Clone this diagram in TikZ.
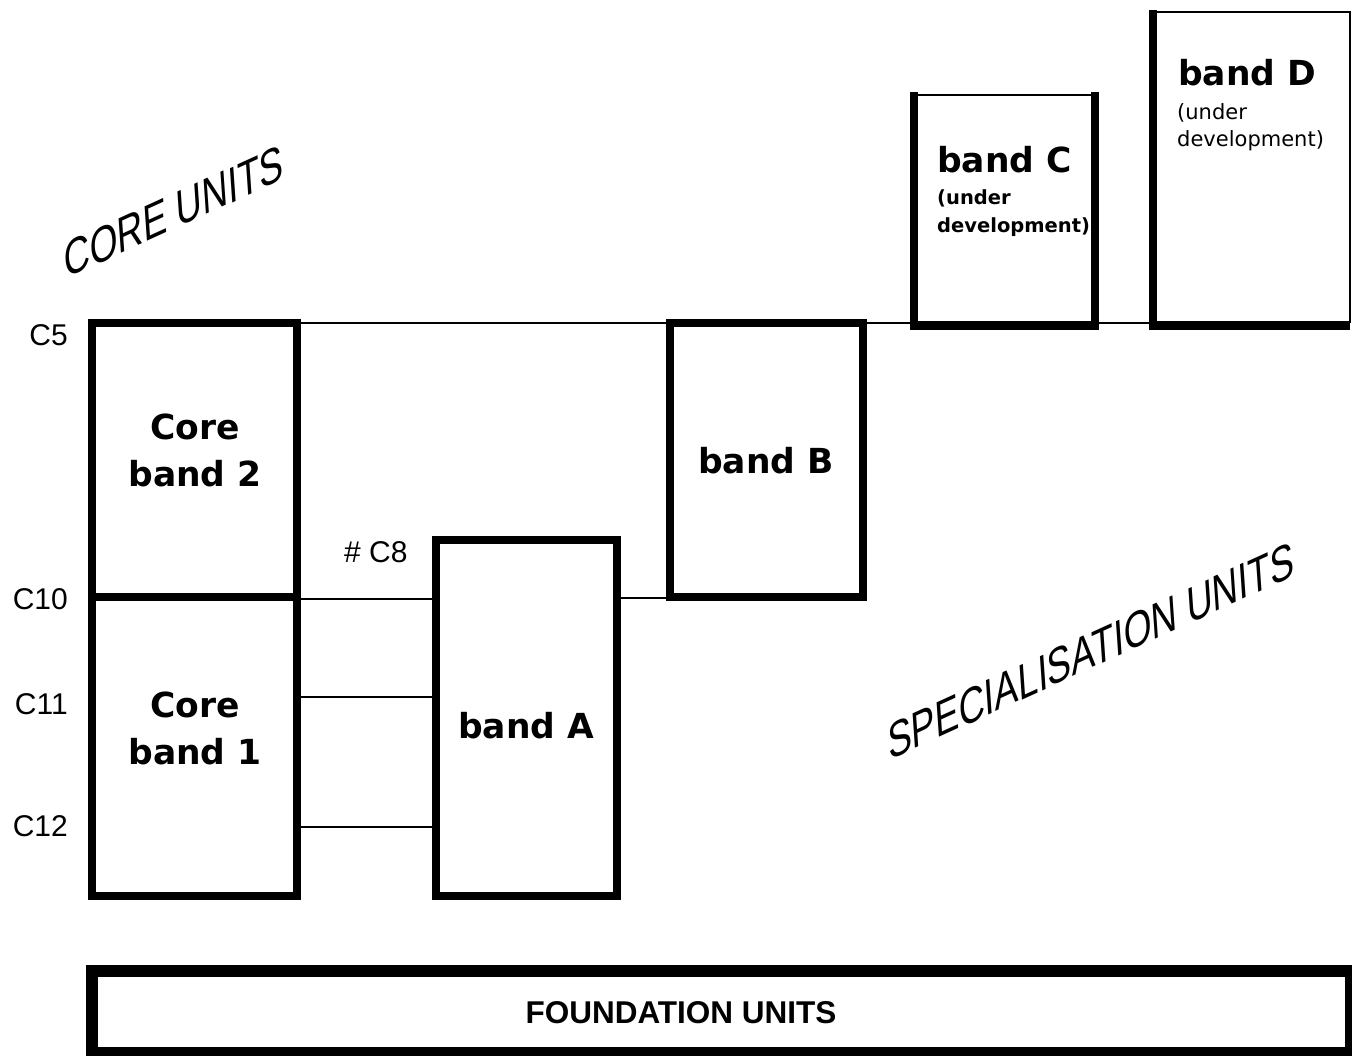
\documentclass[tikz,border=0pt]{standalone}
\usepackage{fontspec}
\newfontfamily\vfont{DejaVu Sans}
\newfontfamily\afont{Liberation Sans}
\newfontfamily\aslfont{Liberation Sans}[FakeSlant=0.45]
\begin{document}
\begin{tikzpicture}[x=1pt,y=-1pt,
  box/.style={draw=black,line width=8pt,rectangle,inner sep=0pt,outer sep=0pt},
  thinbox/.style={draw=black,line width=2pt,rectangle,inner sep=0pt,outer sep=0pt},
  thinline/.style={draw=black,line width=2pt},
  thickline/.style={draw=black,line width=8pt,line cap=rect},
  bigtxt/.style={inner sep=0pt,font=\vfont\bfseries\fontsize{34.5}{40}\selectfont},
  subtxt/.style={inner sep=0pt,font=\vfont\bfseries\fontsize{19.5}{24}\selectfont},
  subtxtr/.style={inner sep=0pt,font=\vfont\fontsize{21}{25}\selectfont},
  lvl/.style={inner sep=0pt,font=\afont\fontsize{30}{36}\selectfont},
  slant/.style={inner sep=0pt,font=\aslfont\fontsize{39}{44}\selectfont,anchor=base,rotate=24.5,yscale=1.2}]
\useasboundingbox (0,0) rectangle (1352,1055);
\coordinate (c11) at (0,697);
\coordinate (c12) at (0,827);
% boxes
\node[box,minimum width=204.5pt,minimum height=274pt] (core2) at (194.25,460) {};
\node[box,minimum width=204.5pt,minimum height=299pt] (core1) at (194.25,746.5) {};
\node[box,minimum width=181pt,minimum height=356pt] (bandA) at (526.5,718) {};
\node[box,minimum width=193pt,minimum height=273.5pt] (bandB) at (766.5,459.75) {};
\node[thinbox,minimum width=181pt,minimum height=227pt] (bandC) at (1004.5,208.5) {};
\node[thinbox,minimum width=197pt,minimum height=310pt] (bandD) at (1251.5,167) {};
\node[draw=black,line width=12pt,rectangle,inner sep=0pt,minimum width=1259pt,minimum height=82.5pt] (found) at (721.5,1011.75) {};
% thick sides of C and D
\draw[thickline,line cap=butt] ([yshift=3pt]bandC.north west) -- ([yshift=-4pt]bandC.south west) -- ([yshift=-4pt]bandC.south east) -- ([yshift=3pt]bandC.north east);
\draw[thickline,line cap=butt] ([yshift=2pt]bandD.north west) -- ([yshift=-4pt]bandD.south west) -- ([yshift=-4pt]bandD.south east);
% level lines
\draw[thinline] ([xshift=4pt]core2.north east) -- ([xshift=-4pt]core2.north east -| bandD.west);
\draw[thinline] ([xshift=4pt,yshift=-2pt]core1.north east) -- ([xshift=-4pt,yshift=-2pt]core1.north east -| bandA.west);
\draw[thinline] ([xshift=4pt,yshift=-1.5pt]bandA.east |- bandB.south) -- ([xshift=-4pt,yshift=-1.5pt]bandB.south west);
\draw[thinline] ([xshift=4pt]c11 -| core1.east) -- ([xshift=-4pt]c11 -| bandA.west);
\draw[thinline] ([xshift=4pt]c12 -| core1.east) -- ([xshift=-4pt]c12 -| bandA.west);
% box texts
\node[bigtxt,anchor=base] (t2a) at (195,439) {Core};
\node[bigtxt,anchor=base] (t2b) at (195,486) {band 2};
\node[bigtxt,anchor=base] (t1a) at (195,717) {Core};
\node[bigtxt,anchor=base] (t1b) at (195,764) {band 1};
\node[bigtxt,anchor=base] (tA) at (526,738) {band A};
\node[bigtxt,anchor=base] (tB) at (766,473) {band B};
\node[bigtxt,anchor=base west] (tC) at (937,172) {band C};
\node[subtxt,anchor=base west] (tC1) at (937,204) {(under};
\node[subtxt,anchor=base west] (tC2) at (937,232) {development)};
\node[bigtxt,anchor=base west] (tD) at (1178,85) {band D};
\node[subtxtr,anchor=base west] (tD1) at (1177,119) {(under};
\node[subtxtr,anchor=base west] (tD2) at (1177,146) {development)};
% level labels
\node[lvl,anchor=base east] (l5) at (68,345) {C5};
\node[lvl,anchor=base east] (l10) at (68,609) {C10};
\node[lvl,anchor=base east] (l11) at (68,714) {C11};
\node[lvl,anchor=base east] (l12) at (68,836) {C12};
\node[lvl,anchor=base west] (l8) at (344,562) {\# C8};
% slanted headings
\node[slant] (core) at (175,229) {CORE UNITS};
\node[slant] (spec) at (1092,668) {SPECIALISATION UNITS};
% foundation
\node[inner sep=0pt,anchor=base,font=\afont\bfseries\fontsize{31.5}{36}\selectfont] (ft) at (681,1023) {FOUNDATION UNITS};
\end{tikzpicture}
\end{document}
